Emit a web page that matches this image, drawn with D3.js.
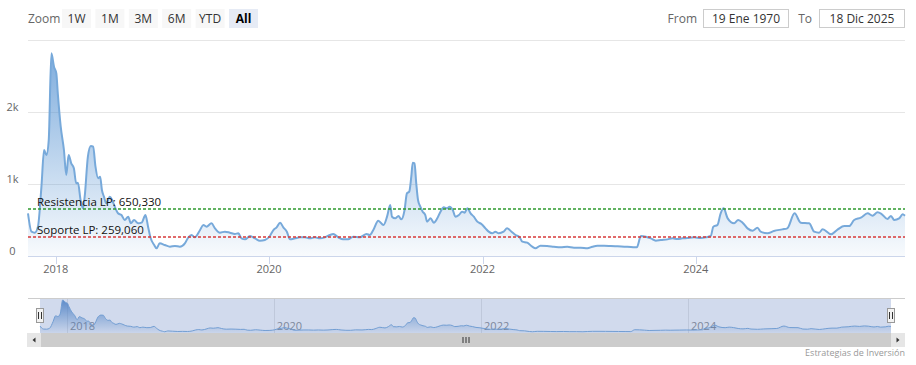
<!DOCTYPE html>
<html>
<head>
<meta charset="utf-8">
<script src="https://cdn.jsdelivr.net/npm/d3@7"></script>
<style>
  body { margin: 0; background: #fff; }
  svg { display: block; font-family: "Open Sans", sans-serif; }
</style>
</head>
<body>
<svg id="chart" width="916" height="365"></svg>
<script>
// series (approx.)
const dates = [
  '2017-09-28', '2017-10-10', '2017-10-21', '2017-11-01', '2017-11-13', '2017-11-22', '2017-11-30', '2017-12-08',
  '2017-12-17', '2017-12-26', '2018-01-03', '2018-01-08', '2018-01-18', '2018-01-29', '2018-02-06', '2018-02-14',
  '2018-02-23', '2018-03-04', '2018-03-12', '2018-03-18', '2018-03-27', '2018-04-04', '2018-04-10', '2018-04-21',
  '2018-05-01', '2018-05-09', '2018-05-17', '2018-05-26', '2018-06-02', '2018-06-08', '2018-06-15', '2018-06-23',
  '2018-07-05', '2018-07-13', '2018-07-22', '2018-08-02', '2018-08-14', '2018-08-25', '2018-09-06', '2018-09-15',
  '2018-09-26', '2018-10-10', '2018-10-22', '2018-11-04', '2018-11-13', '2018-11-22', '2018-12-04', '2018-12-12',
  '2018-12-23', '2019-01-09', '2019-01-27', '2019-02-13', '2019-03-02', '2019-03-19', '2019-03-31', '2019-04-11',
  '2019-04-22', '2019-05-10', '2019-05-21', '2019-06-01', '2019-06-18', '2019-06-30', '2019-07-17', '2019-08-03',
  '2019-08-20', '2019-09-06', '2019-09-18', '2019-09-29', '2019-10-11', '2019-10-28', '2019-11-14', '2019-12-01',
  '2019-12-18', '2020-01-04', '2020-01-16', '2020-01-27', '2020-02-08', '2020-02-19', '2020-03-02', '2020-03-13',
  '2020-03-30', '2020-04-16', '2020-05-03', '2020-05-20', '2020-06-06', '2020-06-23', '2020-07-10', '2020-07-27',
  '2020-08-08', '2020-08-25', '2020-09-11', '2020-09-28', '2020-10-15', '2020-11-07', '2020-11-30', '2020-12-11',
  '2020-12-23', '2021-01-09', '2021-01-27', '2021-02-08', '2021-02-19', '2021-02-25', '2021-03-08', '2021-03-19',
  '2021-03-29', '2021-04-09', '2021-04-17', '2021-04-25', '2021-05-02', '2021-05-07', '2021-05-13', '2021-05-19',
  '2021-05-25', '2021-06-02', '2021-06-10', '2021-06-19', '2021-06-25', '2021-07-07', '2021-07-18', '2021-07-30',
  '2021-08-10', '2021-08-21', '2021-09-02', '2021-09-10', '2021-09-21', '2021-09-30', '2021-10-12', '2021-10-23',
  '2021-11-01', '2021-11-10', '2021-11-21', '2021-12-02', '2021-12-14', '2021-12-28', '2022-01-11', '2022-01-22',
  '2022-02-03', '2022-02-14', '2022-02-25', '2022-03-14', '2022-03-26', '2022-04-10', '2022-04-24', '2022-05-08',
  '2022-05-17', '2022-06-03', '2022-06-20', '2022-07-01', '2022-07-18', '2022-08-10', '2022-09-02', '2022-09-25',
  '2022-10-18', '2022-11-10', '2022-12-03', '2022-12-26', '2023-01-12', '2023-01-29', '2023-02-21', '2023-03-16',
  '2023-04-08', '2023-05-01', '2023-05-24', '2023-06-13', '2023-06-27', '2023-07-14', '2023-07-31', '2023-08-17',
  '2023-09-03', '2023-09-26', '2023-10-13', '2023-10-30', '2023-11-16', '2023-12-03', '2023-12-26', '2024-01-18',
  '2024-02-04', '2024-02-21', '2024-03-01', '2024-03-15', '2024-03-26', '2024-04-05', '2024-04-19', '2024-05-11',
  '2024-05-25', '2024-06-09', '2024-06-26', '2024-07-13', '2024-07-30', '2024-08-10', '2024-09-02', '2024-09-24',
  '2024-10-23', '2024-11-09', '2024-12-04', '2024-12-25', '2025-01-23', '2025-02-09', '2025-02-26', '2025-03-10',
  '2025-04-08', '2025-05-01', '2025-05-23', '2025-06-09', '2025-06-26', '2025-07-19', '2025-08-11', '2025-08-28',
  '2025-09-14', '2025-09-28', '2025-10-18', '2025-10-30', '2025-11-10', '2025-11-27', '2025-12-09', '2025-12-17'
];
const values = [
  593, 338, 324, 407, 963, 1472, 1403, 1611,
  2815, 2630, 2537, 2260, 1796, 1472, 1125, 1403,
  1287, 1218, 1009, 1018, 778, 662, 824, 1379,
  1528, 1518, 1240, 1079, 1101, 917, 824, 731,
  824, 778, 685, 593, 569, 500, 546, 454,
  500, 454, 463, 569, 407, 246, 153, 107,
  176, 153, 129, 139, 129, 176, 259, 292,
  259, 361, 431, 407, 454, 384, 324, 338,
  324, 306, 315, 245, 231, 278, 245, 213,
  222, 278, 361, 398, 463, 398, 338, 231,
  245, 259, 259, 245, 259, 245, 259, 292,
  306, 259, 231, 231, 268, 259, 306, 292,
  361, 491, 431, 546, 708, 546, 523, 556,
  509, 639, 870, 894, 1101, 1296, 1287, 1009,
  778, 685, 616, 569, 477, 523, 463, 523,
  616, 676, 662, 685, 639, 546, 569, 616,
  602, 662, 593, 546, 477, 444, 384, 338,
  315, 338, 315, 338, 384, 338, 292, 259,
  199, 185, 129, 107, 143, 139, 129, 120,
  129, 116, 116, 107, 129, 143, 143, 139,
  134, 129, 125, 120, 278, 268, 245, 213,
  222, 231, 245, 236, 245, 250, 259, 250,
  259, 278, 407, 431, 593, 662, 523, 454,
  500, 463, 384, 352, 394, 338, 315, 347,
  370, 384, 593, 463, 454, 338, 324, 370,
  301, 370, 416, 416, 500, 532, 593, 560,
  606, 583, 514, 556, 500, 523, 579, 560
];

const zoomButtons = ['1W', '1M', '3M', '6M', 'YTD', 'All'];
const selectedButton = 'All';
const fromDate = '19 Ene 1970';
const toDate = '18 Dic 2025';

const plotLineValues = [650.33, 259.06];
const plotLineLabels = ['Resistencia LP: 650,330', 'Soporte LP: 259,060'];
const plotLineColors = ['#2e9a2e', '#d83a3a'];

const yTicks = [0, 1000, 2000, 3000];
const yTickLabels = ['0', '1k', '2k', ''];
const credits = 'Estrategias de Inversión';

const seriesColor = '#77a9da';

// layout
const plot = {left: 28, right: 905, top: 40, bottom: 256};
const nav = {left: 40, right: 891, top: 298, bottom: 333};
const scroll = {top: 333, bottom: 347};

const parseDate = d3.timeParse('%Y-%m-%d');
const data = dates.map((d, i) => ({date: parseDate(d), value: values[i]}));

const svg = d3.select('#chart');
const defs = svg.append('defs');

const grad = defs.append('linearGradient')
  .attr('id', 'areaGrad')
  .attr('gradientUnits', 'userSpaceOnUse')
  .attr('x1', 0).attr('x2', 0)
  .attr('y1', plot.top).attr('y2', plot.bottom);
grad.append('stop').attr('offset', 0).attr('stop-color', '#5592d2').attr('stop-opacity', 0.8);
grad.append('stop').attr('offset', 1).attr('stop-color', '#5592d2').attr('stop-opacity', 0.04);

const navGrad = defs.append('linearGradient')
  .attr('id', 'navGrad')
  .attr('gradientUnits', 'userSpaceOnUse')
  .attr('x1', 0).attr('x2', 0)
  .attr('y1', nav.top).attr('y2', nav.bottom);
navGrad.append('stop').attr('offset', 0).attr('stop-color', '#3d7cc4').attr('stop-opacity', 0.9);
navGrad.append('stop').attr('offset', 1).attr('stop-color', '#3d7cc4').attr('stop-opacity', 0.05);

// ---- range selector ----
function drawRangeSelector() {
  svg.append('text')
    .attr('x', plot.left).attr('y', 22.5)
    .attr('fill', '#666')
    .style('font-size', '12px')
    .text('Zoom');

  zoomButtons.forEach((b, i) => {
    const g = svg.append('g')
      .attr('transform', 'translate(' + (62 + i * 33.4) + ',9)');
    const sel = b === selectedButton;
    g.append('rect')
      .attr('width', 29).attr('height', 19)
      .attr('fill', sel ? '#e6ebf5' : '#f7f7f7');
    g.append('text')
      .attr('x', 14.5).attr('y', 13.5)
      .attr('text-anchor', 'middle')
      .attr('fill', sel ? '#000' : '#333')
      .style('font-size', '12px')
      .style('font-weight', sel ? 'bold' : 'normal')
      .text(b);
  });

  const boxes = [
    {label: 'From', labelEnd: 697, x: 703.5, text: fromDate},
    {label: 'To', labelEnd: 812, x: 819.5, text: toDate}
  ];
  boxes.forEach(b => {
    svg.append('text')
      .attr('x', b.labelEnd).attr('y', 22.5)
      .attr('text-anchor', 'end')
      .attr('fill', '#666')
      .style('font-size', '12px')
      .text(b.label);
    svg.append('rect')
      .attr('x', b.x).attr('y', 9.5)
      .attr('width', 85).attr('height', 18)
      .attr('fill', '#fff')
      .attr('stroke', '#cccccc');
    svg.append('text')
      .attr('x', b.x + 42.5).attr('y', 22.5)
      .attr('text-anchor', 'middle')
      .attr('fill', '#333')
      .style('font-size', '12px')
      .text(b.text);
  });
}

// ---- main chart ----
const xScale = d3.scaleTime()
  .domain(d3.extent(data, d => d.date))
  .range([plot.left, plot.right]);
const yScale = d3.scaleLinear()
  .domain([0, 3000])
  .range([plot.bottom, plot.top]);

function drawMain() {
  // grid
  svg.append('g').selectAll('line')
    .data(yTicks)
    .enter().append('line')
    .attr('x1', plot.left).attr('x2', plot.right)
    .attr('y1', d => Math.round(yScale(d)) + 0.5)
    .attr('y2', d => Math.round(yScale(d)) + 0.5)
    .attr('stroke', '#e6e6e6');

  svg.append('g').selectAll('text')
    .data(yTicks)
    .enter().append('text')
    .attr('x', 12.5)
    .attr('y', d => yScale(d) - 1)
    .attr('text-anchor', 'middle')
    .attr('fill', '#666')
    .style('font-size', '11px')
    .text((d, i) => yTickLabels[i]);

  // x axis
  const xTicks = xScale.ticks(d3.timeYear.every(2));
  const xAxis = svg.append('g');
  xAxis.append('line')
    .attr('x1', plot.left).attr('x2', plot.right)
    .attr('y1', plot.bottom + 0.5).attr('y2', plot.bottom + 0.5)
    .attr('stroke', '#ccd6eb');
  xAxis.selectAll('.tick')
    .data(xTicks)
    .enter().append('line')
    .attr('x1', d => Math.round(xScale(d)) + 0.5)
    .attr('x2', d => Math.round(xScale(d)) + 0.5)
    .attr('y1', plot.bottom).attr('y2', plot.bottom + 8)
    .attr('stroke', '#ccd6eb');
  xAxis.selectAll('text')
    .data(xTicks)
    .enter().append('text')
    .attr('x', d => xScale(d))
    .attr('y', 273)
    .attr('text-anchor', 'middle')
    .attr('fill', '#666')
    .style('font-size', '11px')
    .text(d3.timeFormat('%Y'));

  // area + line
  const area = d3.area()
    .x(d => xScale(d.date))
    .y0(yScale(0))
    .y1(d => yScale(d.value))
    .curve(d3.curveMonotoneX);
  const line = d3.line()
    .x(d => xScale(d.date))
    .y(d => yScale(d.value))
    .curve(d3.curveMonotoneX);

  svg.append('path')
    .datum(data)
    .attr('d', area)
    .attr('fill', 'url(#areaGrad)');
  svg.append('path')
    .datum(data)
    .attr('d', line)
    .attr('fill', 'none')
    .attr('stroke', seriesColor)
    .attr('stroke-width', 2)
    .attr('stroke-linejoin', 'round');

  // support / resistance
  plotLineValues.forEach((v, i) => {
    const py = Math.round(yScale(v));
    svg.append('line')
      .attr('x1', plot.left).attr('x2', plot.right)
      .attr('y1', py).attr('y2', py)
      .attr('stroke', plotLineColors[i])
      .attr('stroke-width', 1.6)
      .attr('stroke-dasharray', '3,2');
    svg.append('text')
      .attr('x', 37).attr('y', py - 3)
      .attr('fill', '#111')
      .style('font-size', '11.5px')
      .text(plotLineLabels[i]);
  });
}

// ---- navigator + scrollbar ----
function drawNavigator() {
  const nx = d3.scaleTime()
    .domain(xScale.domain())
    .range([nav.left, nav.right]);
  const ny = d3.scaleLinear()
    .domain([0, d3.max(values)])
    .range([nav.bottom, nav.top + 2]);

  const navTicks = nx.ticks(d3.timeYear.every(2));
  svg.append('g').selectAll('line')
    .data(navTicks)
    .enter().append('line')
    .attr('x1', d => Math.round(nx(d)) + 0.5)
    .attr('x2', d => Math.round(nx(d)) + 0.5)
    .attr('y1', nav.top).attr('y2', nav.bottom)
    .attr('stroke', '#e6e6e6');
  svg.append('g').selectAll('text')
    .data(navTicks)
    .enter().append('text')
    .attr('x', d => nx(d) + 3)
    .attr('y', 330)
    .attr('fill', '#888')
    .style('font-size', '11px')
    .text(d3.timeFormat('%Y'));

  const navArea = d3.area()
    .x(d => nx(d.date))
    .y0(nav.bottom)
    .y1(d => ny(d.value))
    .curve(d3.curveMonotoneX);
  const navLine = d3.line()
    .x(d => nx(d.date))
    .y(d => ny(d.value))
    .curve(d3.curveMonotoneX);
  svg.append('path').datum(data)
    .attr('d', navArea)
    .attr('fill', 'url(#navGrad)');
  svg.append('path').datum(data)
    .attr('d', navLine)
    .attr('fill', 'none')
    .attr('stroke', seriesColor)
    .attr('stroke-width', 1);

  // selection mask (All)
  svg.append('rect')
    .attr('x', nav.left).attr('y', nav.top)
    .attr('width', nav.right - nav.left)
    .attr('height', nav.bottom - nav.top)
    .attr('fill', 'rgba(102,133,194,0.3)');
  svg.append('path')
    .attr('d', 'M' + plot.left + ',' + (nav.top + 0.5) + 'H' + plot.right)
    .attr('stroke', '#cccccc')
    .attr('fill', 'none');

  // handles
  [nav.left, nav.right].forEach(hx => {
    const g = svg.append('g').attr('transform', 'translate(' + Math.round(hx) + ',308)');
    g.append('rect')
      .attr('x', -3.5).attr('y', 0.5)
      .attr('width', 7).attr('height', 14)
      .attr('fill', '#f2f2f2')
      .attr('stroke', '#999');
    g.append('path')
      .attr('d', 'M-1.5,4V11M1.5,4V11')
      .attr('stroke', '#333');
  });

  // scrollbar
  svg.append('rect')
    .attr('x', plot.left - 1).attr('y', scroll.top)
    .attr('width', plot.right - plot.left + 1)
    .attr('height', scroll.bottom - scroll.top)
    .attr('fill', '#f2f2f2');
  svg.append('rect')
    .attr('x', nav.left).attr('y', scroll.top)
    .attr('width', nav.right - nav.left)
    .attr('height', scroll.bottom - scroll.top)
    .attr('fill', '#cccccc');
  const mid = (nav.left + nav.right) / 2;
  svg.append('path')
    .attr('d', 'M' + (mid - 2.5) + ',337V343M' + (mid + 0.5) + ',337V343M' + (mid + 3.5) + ',337V343')
    .attr('stroke', '#333');

  [[plot.left - 1, -1], [nav.right, 1]].forEach(([bx, dir]) => {
    svg.append('rect')
      .attr('x', bx).attr('y', scroll.top)
      .attr('width', 14).attr('height', scroll.bottom - scroll.top)
      .attr('fill', '#e6e6e6');
    const cx = bx + 7, cy = (scroll.top + scroll.bottom) / 2;
    svg.append('path')
      .attr('d', 'M' + (cx - dir * 1.5) + ',' + (cy - 2.5) + 'L' + (cx + dir * 1.5) + ',' + cy + 'L' + (cx - dir * 1.5) + ',' + (cy + 2.5) + 'Z')
      .attr('fill', '#333');
  });

  svg.append('text')
    .attr('x', plot.right).attr('y', 356)
    .attr('text-anchor', 'end')
    .attr('fill', '#999')
    .style('font-size', '9px')
    .text(credits);
}

drawRangeSelector();
drawMain();
drawNavigator();
</script>
</body>
</html>
